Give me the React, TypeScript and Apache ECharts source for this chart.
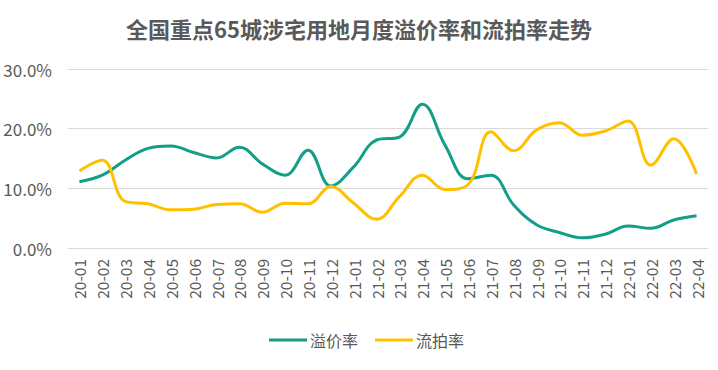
import React, { useEffect, useRef } from "react";
import * as echarts from "echarts";

const months = [
  "20-01","20-02","20-03","20-04","20-05","20-06","20-07","20-08","20-09","20-10","20-11","20-12",
  "21-01","21-02","21-03","21-04","21-05","21-06","21-07","21-08","21-09","21-10","21-11","21-12",
  "22-01","22-02","22-03","22-04",
];
const premiumRate = [
  11.1, 12.2, 14.7, 16.7, 17.1, 16.0, 15.1, 16.9, 14.1, 12.2, 16.4, 10.4,
  13.6, 18.1, 18.6, 24.1, 17.2, 11.6, 12.2, 7.2, 3.9, 2.6, 1.7, 2.3,
  3.7, 3.3, 4.7, 5.4,
];
const failRate = [
  12.9, 14.7, 7.8, 7.4, 6.4, 6.5, 7.3, 7.4, 6.0, 7.5, 7.4, 10.3,
  7.5, 4.8, 8.6, 12.2, 9.8, 10.6, 19.5, 16.3, 19.8, 21.0, 18.9, 19.6,
  21.3, 13.9, 18.3, 12.4,
];
const yTicks = [0, 10, 20, 30];

export default function App() {
  const ref = useRef<HTMLDivElement>(null);
  useEffect(() => {
    if (!ref.current) return;
    const chart = echarts.init(ref.current, null, { renderer: "svg" });
    const font = "'Noto Sans CJK SC', 'Noto Sans', sans-serif";
    chart.setOption({
      animation: false,
      textStyle: { fontFamily: font },
      title: {
        text: "全国重点65城涉宅用地月度溢价率和流拍率走势",
        left: "center",
        top: 12,
        textStyle: { fontSize: 22, fontWeight: "bold", color: "#595959", fontFamily: font },
      },
      legend: {
        left: 264,
        top: 327,
        itemWidth: 38,
        itemHeight: 3,
        itemGap: 17,
        icon: "rect",
        textStyle: { fontSize: 16, color: "#595959", padding: [0, 0, 0, -2] },
        data: ["溢价率", "流拍率"],
      },
      grid: { left: 68, right: 10, top: 69, bottom: 122 },
      xAxis: {
        type: "category",
        data: months,
        boundaryGap: true,
        axisLine: { show: true, lineStyle: { color: "#d9d9d9" } },
        axisTick: { show: false },
        axisLabel: { rotate: 90, fontSize: 15.5, color: "#595959", margin: 11, interval: 0 },
      },
      yAxis: {
        type: "value",
        min: yTicks[0],
        max: yTicks[yTicks.length - 1],
        interval: 10,
        axisLine: { show: false },
        axisTick: { show: false },
        splitLine: { lineStyle: { color: "#d9d9d9" } },
        axisLabel: {
          fontSize: 17,
          color: "#595959",
          margin: 16,
          formatter: (v: number) => v.toFixed(1) + "%",
        },
      },
      series: [
        {
          name: "溢价率",
          type: "line",
          data: premiumRate,
          smooth: 0.4,
          symbol: "none",
          lineStyle: { width: 3, color: "#129E87" },
          itemStyle: { color: "#129E87" },
        },
        {
          name: "流拍率",
          type: "line",
          data: failRate,
          smooth: 0.4,
          symbol: "none",
          lineStyle: { width: 3, color: "#FFC000" },
          itemStyle: { color: "#FFC000" },
        },
      ],
    });
    return () => chart.dispose();
  }, []);
  return <div ref={ref} style={{ width: 718, height: 370, position: "absolute", left: 0, top: 0 }} />;
}
